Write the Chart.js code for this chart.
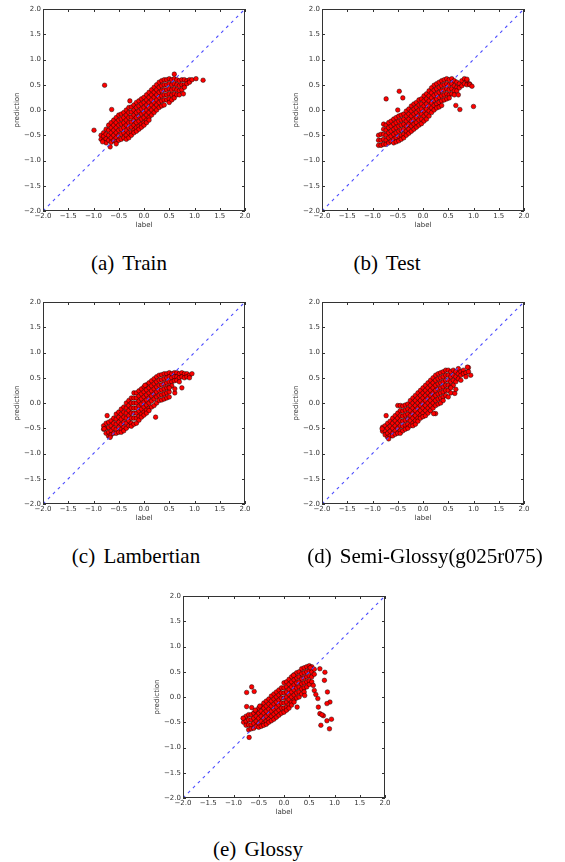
<!DOCTYPE html>
<html>
<head>
<meta charset="utf-8">
<script src="https://cdn.jsdelivr.net/npm/chart.js@4.4.1/dist/chart.umd.min.js"></script>
<style>
  body { margin: 0; background: #fff; }
  #page { position: relative; width: 565px; height: 862px; overflow: hidden; }
  .plot { position: absolute; width: 280px; height: 230px; }
  .cap {
    position: absolute;
    transform: translate(-50%, -50%);
    font-family: "Liberation Serif", "DejaVu Serif", serif;
    font-size: 21px;
    word-spacing: 3px;
    white-space: nowrap;
    color: #000;
  }
</style>
</head>
<body>
<div id="page">
  <canvas id="plotA" class="plot" width="280" height="230" style="left:0px;top:0px"></canvas>
  <canvas id="plotB" class="plot" width="280" height="230" style="left:279px;top:0px"></canvas>
  <canvas id="plotC" class="plot" width="280" height="230" style="left:0px;top:293px"></canvas>
  <canvas id="plotD" class="plot" width="280" height="230" style="left:279px;top:293px"></canvas>
  <canvas id="plotE" class="plot" width="280" height="230" style="left:140px;top:587px"></canvas>

  <div class="cap" style="left:129px;top:263px">(a) Train</div>
  <div class="cap" style="left:387px;top:263px">(b) Test</div>
  <div class="cap" style="left:136px;top:556px">(c) Lambertian</div>
  <div class="cap" style="left:425px;top:556px">(d) Semi-Glossy(g025r075)</div>
  <div class="cap" style="left:258px;top:849px">(e) Glossy</div>
</div>

<script>
// axis ticks shared by every panel
var tickVals = [-2.0, -1.5, -1.0, -0.5, 0.0, 0.5, 1.0, 1.5, 2.0];
var diagLine = [-2, 2]; // the y = x reference line

// each column: [label, prediction, prediction, ...]
var trainCols = [
  [-0.85, -0.5, -0.58],
  [-0.8, -0.45, -0.52, -0.6],
  [-0.75, -0.38, -0.48, -0.57, -0.65],
  [-0.7, -0.3, -0.4, -0.5, -0.6],
  [-0.65, -0.25, -0.35, -0.45, -0.55, -0.64],
  [-0.6, -0.2, -0.3, -0.4, -0.5, -0.6],
  [-0.55, -0.15, -0.25, -0.35, -0.45, -0.55, -0.63],
  [-0.5, -0.1, -0.2, -0.3, -0.4, -0.5, -0.6],
  [-0.45, -0.08, -0.18, -0.28, -0.38, -0.48, -0.58],
  [-0.4, -0.05, -0.15, -0.25, -0.35, -0.45, -0.55],
  [-0.35, 0.0, -0.1, -0.2, -0.3, -0.4, -0.5, -0.58],
  [-0.3, 0.05, -0.05, -0.15, -0.25, -0.35, -0.45, -0.55],
  [-0.25, 0.06, -0.04, -0.14, -0.24, -0.34, -0.44, -0.5],
  [-0.2, 0.1, 0.0, -0.1, -0.2, -0.3, -0.4, -0.45],
  [-0.15, 0.15, 0.05, -0.05, -0.15, -0.25, -0.35, -0.42],
  [-0.1, 0.18, 0.08, -0.02, -0.12, -0.22, -0.32, -0.38],
  [-0.05, 0.22, 0.12, 0.02, -0.08, -0.18, -0.28, -0.34],
  [0.0, 0.25, 0.15, 0.05, -0.05, -0.15, -0.25, -0.3],
  [0.05, 0.3, 0.2, 0.1, 0.0, -0.1, -0.2, -0.25],
  [0.1, 0.35, 0.25, 0.15, 0.05, -0.05, -0.15, -0.2],
  [0.15, 0.4, 0.3, 0.2, 0.1, 0.0, -0.1],
  [0.2, 0.45, 0.35, 0.25, 0.15, 0.05, -0.05],
  [0.25, 0.5, 0.4, 0.3, 0.2, 0.1, 0.0],
  [0.3, 0.55, 0.45, 0.35, 0.25, 0.15, 0.05],
  [0.35, 0.58, 0.48, 0.38, 0.28, 0.18, 0.08],
  [0.4, 0.6, 0.5, 0.4, 0.3, 0.2, 0.1],
  [0.45, 0.6, 0.5, 0.4, 0.3, 0.2],
  [0.5, 0.62, 0.52, 0.42, 0.32, 0.22, 0.15],
  [0.55, 0.6, 0.5, 0.4, 0.3, 0.2],
  [0.6, 0.62, 0.52, 0.42, 0.32, 0.24],
  [0.65, 0.6, 0.5, 0.4, 0.3],
  [0.7, 0.58, 0.48, 0.38, 0.3],
  [0.75, 0.6, 0.5, 0.4],
  [0.8, 0.6, 0.5, 0.45],
  [0.85, 0.58, 0.52],
  [0.9, 0.6, 0.55],
  [0.95, 0.6]
];
var trainExtra = [[-0.78, 0.49], [-0.64, 0.01], [-0.99, -0.4], [1.03, 0.62], [1.17, 0.59],
  [0.6, 0.71], [0.78, 0.32], [-0.67, -0.73], [-0.82, -0.63], [-0.28, 0.18], [-0.55, -0.67]];

var testCols = [
  [-0.88, -0.5, -0.6, -0.7],
  [-0.83, -0.48, -0.6, -0.7],
  [-0.78, -0.28, -0.38, -0.48, -0.58, -0.68],
  [-0.73, -0.3, -0.4, -0.5, -0.6, -0.68],
  [-0.68, -0.25, -0.35, -0.45, -0.55, -0.65],
  [-0.63, -0.22, -0.32, -0.42, -0.52, -0.62],
  [-0.58, -0.18, -0.28, -0.38, -0.48, -0.58, -0.65],
  [-0.53, -0.15, -0.25, -0.35, -0.45, -0.55, -0.63],
  [-0.48, -0.12, -0.22, -0.32, -0.42, -0.52, -0.61],
  [-0.43, -0.1, -0.2, -0.3, -0.4, -0.5, -0.58],
  [-0.38, -0.08, -0.18, -0.28, -0.38, -0.48, -0.55],
  [-0.33, -0.02, -0.12, -0.22, -0.32, -0.42, -0.5],
  [-0.28, 0.02, -0.08, -0.18, -0.28, -0.38, -0.46],
  [-0.23, 0.08, -0.02, -0.12, -0.22, -0.32, -0.42],
  [-0.18, 0.12, 0.02, -0.08, -0.18, -0.28, -0.38],
  [-0.13, 0.15, 0.05, -0.05, -0.15, -0.25, -0.34],
  [-0.08, 0.2, 0.1, 0.0, -0.1, -0.2, -0.3],
  [-0.03, 0.22, 0.12, 0.02, -0.08, -0.18, -0.27],
  [0.02, 0.28, 0.18, 0.08, -0.02, -0.12, -0.22],
  [0.07, 0.32, 0.22, 0.12, 0.02, -0.08, -0.18],
  [0.12, 0.38, 0.28, 0.18, 0.08, -0.02, -0.12],
  [0.17, 0.44, 0.34, 0.24, 0.14, 0.04, -0.05],
  [0.22, 0.49, 0.39, 0.29, 0.19, 0.09, 0.0],
  [0.27, 0.52, 0.42, 0.32, 0.22, 0.12, 0.04],
  [0.32, 0.55, 0.45, 0.35, 0.25, 0.15, 0.06],
  [0.37, 0.58, 0.48, 0.38, 0.28, 0.18, 0.09],
  [0.42, 0.6, 0.5, 0.4, 0.3, 0.2],
  [0.47, 0.62, 0.52, 0.42, 0.32, 0.22],
  [0.52, 0.6, 0.5, 0.4, 0.3, 0.24],
  [0.57, 0.62, 0.52, 0.42, 0.32],
  [0.62, 0.58, 0.48, 0.38, 0.3],
  [0.67, 0.55, 0.45, 0.38],
  [0.72, 0.52, 0.44],
  [0.77, 0.58, 0.48],
  [0.82, 0.62, 0.52],
  [0.87, 0.58, 0.5],
  [0.92, 0.52]
];
var testExtra = [[-0.73, 0.22], [-0.47, 0.37], [-0.4, 0.24], [-0.5, 0.0], [0.65, 0.09],
  [0.73, 0.01], [1.0, 0.07], [0.7, 0.3], [0.93, 0.5], [0.97, 0.47], [0.87, 0.61]];

var lambCols = [
  [-0.8, -0.45, -0.52],
  [-0.75, -0.4, -0.5, -0.6],
  [-0.7, -0.38, -0.48, -0.58, -0.66],
  [-0.65, -0.35, -0.45, -0.55, -0.63],
  [-0.6, -0.3, -0.4, -0.5, -0.6],
  [-0.55, -0.22, -0.32, -0.42, -0.52, -0.6],
  [-0.5, -0.18, -0.28, -0.38, -0.48, -0.58],
  [-0.45, -0.12, -0.22, -0.32, -0.42, -0.52, -0.58],
  [-0.4, -0.08, -0.18, -0.28, -0.38, -0.48, -0.55],
  [-0.35, 0.0, -0.1, -0.2, -0.3, -0.4, -0.5],
  [-0.3, 0.05, -0.05, -0.15, -0.25, -0.35, -0.45],
  [-0.25, 0.1, 0.0, -0.1, -0.2, -0.3, -0.4, -0.46],
  [-0.2, 0.2, 0.1, 0.0, -0.1, -0.2, -0.3, -0.42],
  [-0.15, 0.2, 0.1, 0.0, -0.1, -0.2, -0.3, -0.4],
  [-0.1, 0.24, 0.14, 0.04, -0.06, -0.16, -0.26, -0.34],
  [-0.05, 0.28, 0.18, 0.08, -0.02, -0.12, -0.22, -0.28],
  [0.0, 0.32, 0.22, 0.12, 0.02, -0.08, -0.18, -0.24],
  [0.05, 0.36, 0.26, 0.16, 0.06, -0.04, -0.14, -0.2],
  [0.1, 0.4, 0.3, 0.2, 0.1, 0.0, -0.1, -0.15],
  [0.15, 0.44, 0.34, 0.24, 0.14, 0.04, -0.08],
  [0.2, 0.48, 0.38, 0.28, 0.18, 0.08, -0.05],
  [0.25, 0.52, 0.42, 0.32, 0.22, 0.12, 0.0],
  [0.3, 0.55, 0.45, 0.35, 0.25, 0.15, 0.05],
  [0.35, 0.56, 0.46, 0.36, 0.26, 0.16, 0.06],
  [0.4, 0.58, 0.48, 0.38, 0.28, 0.18, 0.08],
  [0.45, 0.58, 0.5, 0.4, 0.3, 0.2, 0.1],
  [0.5, 0.6, 0.52, 0.42, 0.32, 0.22, 0.12],
  [0.55, 0.58, 0.5, 0.42, 0.34],
  [0.6, 0.6, 0.52, 0.44],
  [0.65, 0.6, 0.52, 0.45],
  [0.7, 0.58, 0.5, 0.42],
  [0.75, 0.6, 0.52, 0.3],
  [0.8, 0.58, 0.5],
  [0.85, 0.58, 0.52],
  [0.9, 0.55, 0.5],
  [0.95, 0.58]
];
var lambExtra = [[0.02, 0.35], [0.23, -0.28], [-0.73, -0.25], [0.61, 0.2], [0.61, 0.28],
  [0.5, 0.3], [-0.67, -0.68], [-0.79, -0.51]];

var semiCols = [
  [-0.8, -0.48, -0.56],
  [-0.75, -0.45, -0.55, -0.63],
  [-0.7, -0.4, -0.5, -0.6, -0.68],
  [-0.65, -0.36, -0.46, -0.56, -0.65],
  [-0.6, -0.3, -0.4, -0.5, -0.6, -0.65],
  [-0.55, -0.25, -0.35, -0.45, -0.55, -0.62],
  [-0.5, -0.05, -0.2, -0.3, -0.4, -0.5, -0.6],
  [-0.45, -0.05, -0.15, -0.25, -0.35, -0.45, -0.55, -0.6],
  [-0.4, -0.06, -0.16, -0.26, -0.36, -0.46, -0.55],
  [-0.35, -0.04, -0.14, -0.24, -0.34, -0.44, -0.52],
  [-0.3, -0.02, -0.12, -0.22, -0.32, -0.42, -0.5],
  [-0.25, 0.05, -0.05, -0.15, -0.25, -0.35, -0.45],
  [-0.2, 0.1, 0.0, -0.1, -0.2, -0.3, -0.4, -0.45],
  [-0.15, 0.15, 0.05, -0.05, -0.15, -0.25, -0.35, -0.42],
  [-0.1, 0.2, 0.1, 0.0, -0.1, -0.2, -0.3, -0.36],
  [-0.05, 0.25, 0.15, 0.05, -0.05, -0.15, -0.25, -0.3],
  [0.0, 0.3, 0.2, 0.1, 0.0, -0.1, -0.2, -0.27],
  [0.05, 0.35, 0.25, 0.15, 0.05, -0.05, -0.15, -0.25],
  [0.1, 0.4, 0.3, 0.2, 0.1, 0.0, -0.1, -0.2],
  [0.15, 0.45, 0.35, 0.25, 0.15, 0.05, -0.05, -0.15],
  [0.2, 0.5, 0.4, 0.3, 0.2, 0.1, 0.0, -0.1],
  [0.25, 0.55, 0.45, 0.35, 0.25, 0.15, 0.05, -0.05],
  [0.3, 0.58, 0.48, 0.38, 0.28, 0.18, 0.08, -0.02],
  [0.35, 0.6, 0.5, 0.4, 0.3, 0.2, 0.1, 0.0],
  [0.4, 0.62, 0.52, 0.42, 0.32, 0.22, 0.12, 0.05],
  [0.45, 0.65, 0.55, 0.45, 0.35, 0.25, 0.15],
  [0.5, 0.65, 0.55, 0.45, 0.35, 0.25, 0.12],
  [0.55, 0.62, 0.52, 0.42, 0.32, 0.2],
  [0.6, 0.65, 0.55, 0.45, 0.35],
  [0.65, 0.62, 0.52, 0.42],
  [0.7, 0.68, 0.58, 0.48],
  [0.75, 0.62, 0.55, 0.45],
  [0.8, 0.65, 0.58],
  [0.85, 0.6, 0.52],
  [0.9, 0.7, 0.62]
];
var semiExtra = [[0.88, 0.71], [0.945, 0.55], [0.63, 0.19], [0.65, 0.27], [0.25, -0.21],
  [0.21, -0.21], [-0.73, -0.25], [-0.68, -0.71], [0.55, 0.3], [-0.81, -0.51]];

var glossyCols = [
  [-0.8, -0.42, -0.5],
  [-0.75, -0.38, -0.48, -0.56],
  [-0.7, -0.35, -0.45, -0.55, -0.65],
  [-0.65, -0.35, -0.45, -0.55, -0.63],
  [-0.6, -0.32, -0.42, -0.52, -0.62],
  [-0.55, -0.28, -0.38, -0.48, -0.58],
  [-0.5, -0.22, -0.32, -0.42, -0.52, -0.6],
  [-0.45, -0.18, -0.28, -0.38, -0.48, -0.58],
  [-0.4, -0.12, -0.22, -0.32, -0.42, -0.52, -0.56],
  [-0.35, -0.08, -0.18, -0.28, -0.38, -0.48, -0.54],
  [-0.3, -0.04, -0.14, -0.24, -0.34, -0.44, -0.5],
  [-0.25, 0.02, -0.08, -0.18, -0.28, -0.38, -0.47],
  [-0.2, 0.06, -0.04, -0.14, -0.24, -0.34, -0.44],
  [-0.15, 0.1, 0.0, -0.1, -0.2, -0.3, -0.4],
  [-0.1, 0.14, 0.04, -0.06, -0.16, -0.26, -0.36],
  [-0.05, 0.18, 0.08, -0.02, -0.12, -0.22, -0.32],
  [0.0, 0.28, 0.18, 0.08, -0.02, -0.12, -0.22, -0.3],
  [0.05, 0.3, 0.2, 0.1, 0.0, -0.1, -0.2, -0.26],
  [0.1, 0.35, 0.25, 0.15, 0.05, -0.05, -0.15, -0.22],
  [0.15, 0.4, 0.3, 0.2, 0.1, 0.0, -0.1, -0.16],
  [0.2, 0.44, 0.34, 0.24, 0.14, 0.04, -0.06, -0.1],
  [0.25, 0.48, 0.38, 0.28, 0.18, 0.08, -0.02],
  [0.3, 0.5, 0.4, 0.3, 0.2, 0.1, 0.0],
  [0.35, 0.56, 0.46, 0.36, 0.26, 0.16, 0.06],
  [0.4, 0.58, 0.48, 0.38, 0.28, 0.18, 0.1],
  [0.45, 0.6, 0.5, 0.4, 0.3, 0.2],
  [0.5, 0.62, 0.52, 0.42, 0.32, 0.25],
  [0.55, 0.6, 0.5, 0.4, 0.3],
  [0.6, 0.55, 0.45]
];
var glossyExtra = [[-0.64, 0.2], [-0.59, 0.11], [-0.74, 0.09], [-0.74, -0.19], [-0.64, -0.21],
  [-0.48, -0.18], [-0.57, -0.26], [-0.81, -0.42], [-0.69, -0.8], [0.71, 0.56], [0.81, 0.49],
  [0.8, 0.33], [0.86, 0.1], [0.91, -0.1], [0.85, -0.13], [0.68, -0.2], [0.67, -0.03],
  [0.6, 0.13], [0.58, 0.23], [0.63, 0.05], [0.71, -0.33], [0.78, -0.37], [0.73, -0.56],
  [0.85, -0.47], [0.9, -0.63], [0.94, -0.44], [0.26, -0.2], [0.41, 0.03], [0.19, 0.43],
  [0.52, 0.58], [0.75, -0.35]];

function toPoints(cols, extra) {
  var pts = [];
  cols.forEach(function(col) {
    for (var i = 1; i < col.length; i++) {
      pts.push({ x: col[0], y: col[i] });
    }
  });
  extra.forEach(function(p) { pts.push({ x: p[0], y: p[1] }); });
  return pts;
}

function fmtTick(v) {
  return (v < 0 ? '\u2212' : '') + Math.abs(v).toFixed(1);
}

// matplotlib-classic style frame with inward ticks on all four sides
var frameTicks = {
  id: 'frameTicks',
  afterDatasetsDraw: function(chart) {
    var ctx = chart.ctx;
    var a = chart.chartArea;
    var xs = chart.scales.x, ys = chart.scales.y;
    ctx.save();
    ctx.strokeStyle = '#333';
    ctx.lineWidth = 1;
    ctx.strokeRect(a.left + 0.5, a.top + 0.5, a.right - a.left - 1, a.bottom - a.top - 1);
    ctx.beginPath();
    tickVals.forEach(function(v) {
      var px = Math.round(xs.getPixelForValue(v)) + 0.5;
      ctx.moveTo(px, a.bottom); ctx.lineTo(px, a.bottom - 3);
      ctx.moveTo(px, a.top); ctx.lineTo(px, a.top + 3);
      var py = Math.round(ys.getPixelForValue(v)) + 0.5;
      ctx.moveTo(a.left, py); ctx.lineTo(a.left + 3, py);
      ctx.moveTo(a.right, py); ctx.lineTo(a.right - 3, py);
    });
    ctx.stroke();
    ctx.restore();
  }
};

function makeScatter(canvasId, points) {
  var ctx = document.getElementById(canvasId).getContext('2d');
  var tickFont = { family: 'DejaVu Sans', size: 7 };
  return new Chart(ctx, {
    type: 'scatter',
    data: {
      datasets: [
        {
          type: 'line',
          data: diagLine.map(function(v) { return { x: v, y: v }; }),
          borderColor: '#4d4dff',
          borderWidth: 1.1,
          borderDash: [3, 4],
          pointRadius: 0,
          fill: false,
          order: 0
        },
        {
          data: points,
          backgroundColor: '#ff0000',
          borderColor: 'rgba(0, 0, 0, 0.75)',
          borderWidth: 0.6,
          pointRadius: 2.3,
          order: 1
        }
      ]
    },
    options: {
      responsive: false,
      animation: false,
      devicePixelRatio: 1,
      events: [],
      layout: { padding: { left: 0, top: 9, right: 35, bottom: 0 } },
      plugins: { legend: { display: false }, tooltip: { enabled: false } },
      scales: {
        x: {
          type: 'linear', min: -2, max: 2,
          grid: { display: false, drawTicks: false },
          border: { display: false },
          afterFit: function(s) { s.height = 19; },
          afterBuildTicks: function(s) { s.ticks = tickVals.map(function(v) { return { value: v }; }); },
          ticks: { font: tickFont, color: '#333', padding: 1, maxRotation: 0, autoSkip: false, callback: fmtTick },
          title: { display: true, text: 'label', font: tickFont, color: '#333', padding: { top: 0, bottom: 1 } }
        },
        y: {
          type: 'linear', min: -2, max: 2,
          grid: { display: false, drawTicks: false },
          border: { display: false },
          afterFit: function(s) { s.width = 43; },
          afterBuildTicks: function(s) { s.ticks = tickVals.map(function(v) { return { value: v }; }); },
          ticks: { font: tickFont, color: '#333', padding: 2, autoSkip: false, callback: fmtTick },
          title: { display: true, text: 'prediction', font: tickFont, color: '#333', padding: { top: 13, bottom: 0 } }
        }
      }
    },
    plugins: [frameTicks]
  });
}

makeScatter('plotA', toPoints(trainCols, trainExtra));
makeScatter('plotB', toPoints(testCols, testExtra));
makeScatter('plotC', toPoints(lambCols, lambExtra));
makeScatter('plotD', toPoints(semiCols, semiExtra));
makeScatter('plotE', toPoints(glossyCols, glossyExtra));
</script>
</body>
</html>
